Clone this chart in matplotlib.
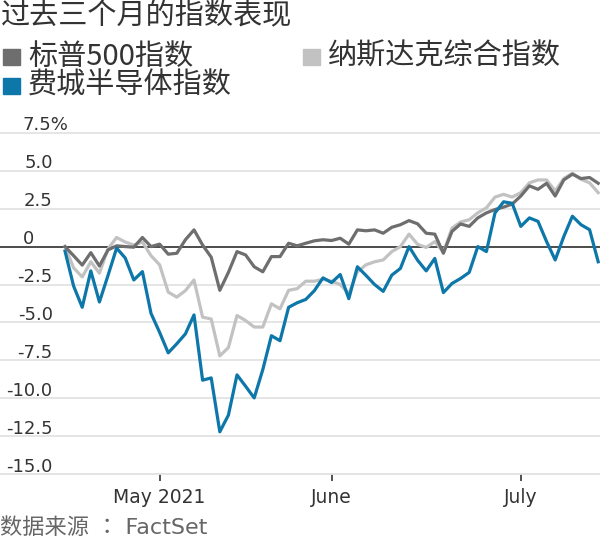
import matplotlib
matplotlib.use("Agg")
import matplotlib.pyplot as plt
from matplotlib.patches import Rectangle

plt.rcParams['font.family'] = ['DejaVu Sans', 'Noto Sans CJK SC']

# trading-day index 0..62 (16 Apr - 15 Jul 2021), % change since start
sp500 = [0, -0.6, -1.22, -0.4, -1.28, -0.22, 0.05, 0.0, -0.04, 0.6,
         0.0, 0.16, -0.5, -0.44, 0.45, 1.1, 0.1, -0.7, -2.88, -1.7,
         -0.33, -0.55, -1.33, -1.66, -0.66, -0.66, 0.22, 0.05, 0.22, 0.38,
         0.45, 0.4, 0.55, 0.16, 1.1, 1.04, 1.1, 0.88, 1.27, 1.44,
         1.71, 1.5, 0.88, 0.82, -0.44, 1.0, 1.49, 1.33, 1.89, 2.22,
         2.44, 2.6, 2.8, 3.33, 4.0, 3.77, 4.17, 3.33, 4.39, 4.77,
         4.48, 4.55, 4.17]
nasdaq = [0, -1.4, -2.0, -1.0, -1.75, -0.15, 0.6, 0.3, 0.1, 0.3,
          -0.6, -1.2, -3.0, -3.33, -2.9, -2.2, -4.65, -4.77, -7.2, -6.65,
          -4.54, -4.87, -5.3, -5.3, -3.77, -4.1, -2.88, -2.77, -2.28, -2.28,
          -2.15, -2.28, -2.5, -3.1, -1.66, -1.2, -1.0, -0.88, -0.33, 0.0,
          0.82, 0.15, -0.06, 0.33, -0.37, 1.22, 1.62, 1.77, 2.22, 2.55,
          3.26, 3.44, 3.26, 3.55, 4.2, 4.39, 4.39, 3.66, 4.48, 4.83,
          4.43, 4.2, 3.55]
sox = [-0.3, -2.6, -4.0, -1.6, -3.65, -1.9, -0.1, -0.75, -2.2, -1.65,
       -4.4, -5.65, -7.0, -6.4, -5.75, -4.5, -8.8, -8.65, -12.2, -11.1,
       -8.45, -9.2, -9.97, -8.1, -5.87, -6.2, -4.0, -3.7, -3.48, -2.9,
       -2.06, -2.37, -1.84, -3.43, -1.33, -1.9, -2.5, -2.95, -1.88, -1.44,
       0.0, -0.9, -1.6, -0.78, -3.03, -2.43, -2.1, -1.7, 0.0, -0.33,
       2.22, 2.95, 2.85, 1.33, 1.89, 1.66, 0.33, -0.88, 0.66, 2.0,
       1.44, 1.11, -1.0]
days = list(range(len(sp500)))

month_pos = [11, 31, 53]
month_labels = ['May 2021', 'June', 'July']
y_ticks = [7.5, 5.0, 2.5, 0, -2.5, -5.0, -7.5, -10.0, -12.5, -15.0]
y_labels = ['7.5%', '5.0', '2.5', '0', '-2.5', '-5.0', '-7.5', '-10.0', '-12.5', '-15.0']

names = ['标普500指数', '纳斯达克综合指数', '费城半导体指数']
colors = ['#6e6e6e', '#c2c2c2', '#0d77aa']
cjk = ['Noto Sans CJK SC', 'DejaVu Sans']

W, H = 600, 539
fig = plt.figure(figsize=(6, 5.39), dpi=100)

ax = fig.add_axes([0, 0.12, 1, 0.6535])
ax.set_xlim(-7.56, 62.21)
ax.set_ylim(-15, 8.2)

ax.set_yticks(y_ticks)
ax.yaxis.grid(True, color='#e3e3e3', lw=1.3)
ax.tick_params(axis='y', length=0, labelleft=False)
ax.axhline(0, color='#333333', lw=1.2, zorder=2)

ax.plot(days, nasdaq, color=colors[1], lw=2.3, zorder=3)
ax.plot(days, sp500, color=colors[0], lw=2.3, zorder=4)
ax.plot(days, sox, color=colors[2], lw=2.3, zorder=5)

for sp in ['top', 'right', 'left']:
    ax.spines[sp].set_visible(False)
ax.spines['bottom'].set_color('#e3e3e3')
ax.spines['bottom'].set_linewidth(1.3)

ax.set_xticks(month_pos)
ax.set_xticklabels(month_labels)
ax.tick_params(axis='x', direction='out', length=5, width=1.2, color='#333333',
               pad=5, labelsize=13.5, labelcolor='#333333')

ytr = ax.get_yaxis_transform()
for v, lab in zip(y_ticks, y_labels):
    if lab in ('0', '7.5%'):
        ax.text(22.7 / W, v + 0.15, lab, transform=ytr, ha='left', va='baseline',
                fontsize=13, color='#333333')
    else:
        ax.text(52.7 / W, v + 0.15, lab, transform=ytr, ha='right', va='baseline',
                fontsize=13, color='#333333')

fig.text(1 / W, 1 - 16 / H, '过去三个月的指数表现', fontsize=21, color='#333333',
         va='center', ha='left', family=cjk)

legend_pos = [(3, 57), (303, 57), (3, 86)]
for (lx, ly), name, c in zip(legend_pos, names, colors):
    fig.patches.append(Rectangle((lx / W, 1 - (ly + 8) / H), 17 / W, 16 / H,
                                 transform=fig.transFigure, color=c))
    fig.text((lx + 25) / W, 1 - ly / H, name, fontsize=21, color='#333333',
             va='center', ha='left', family=cjk)

# TC font centres the full-width colon like the original
fig.text(0, 1 - 528 / H, '数据来源 ： FactSet', fontsize=16, color='#666666',
         va='center', ha='left', family=['DejaVu Sans', 'Noto Sans CJK TC'])

fig.savefig('out.png', dpi=100)
